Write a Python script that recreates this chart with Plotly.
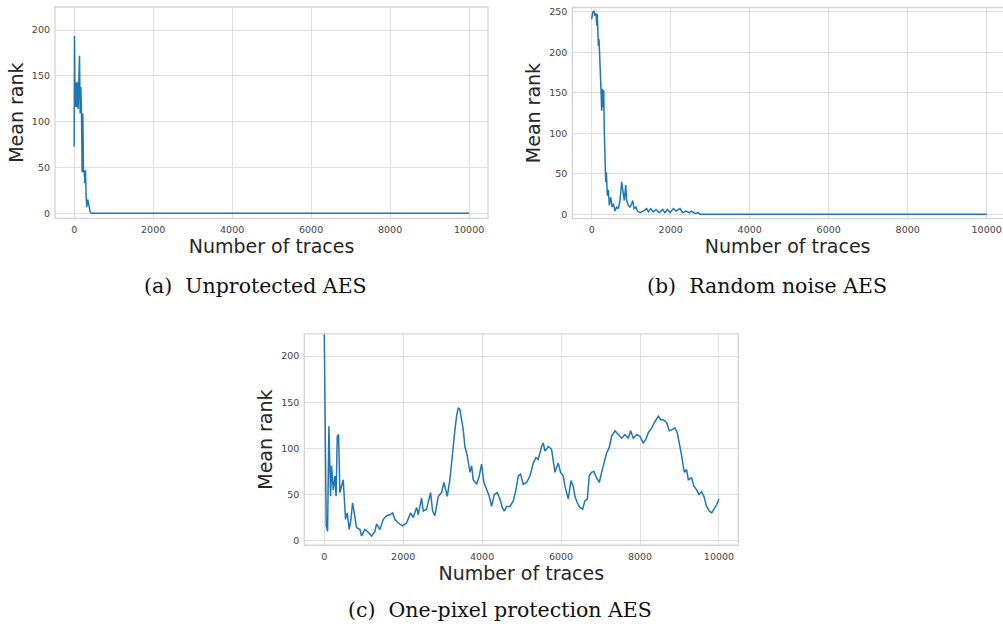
import plotly.graph_objects as go

# ---------------- data ----------------
# (a) Unprotected AES
a_traces = [0, 8, 25, 50, 67, 84, 101, 118, 135, 152, 169, 186, 202, 219, 236, 253,
            270, 287, 304, 320, 346, 371, 405, 430, 1000, 3000, 6000, 10000]
a_rank = [73, 194, 116, 143, 116, 143, 114, 168, 172, 109, 138, 109, 45, 109, 45, 47,
          33, 47, 18, 7, 15, 7, 2, 0, 0, 0, 0, 0]

# (b) Random noise AES
b_traces = [0, 25, 59, 84, 110, 127, 143, 169, 186, 211, 236, 253, 270, 287, 304, 321,
            338, 354, 371, 397, 422, 447, 481, 515, 549, 591, 633, 675, 717, 760, 802,
            827, 861, 886, 928, 970, 1013, 1038, 1072, 1122, 1156, 1224, 1308, 1392,
            1435, 1494, 1561, 1629, 1713, 1797, 1857, 1916, 1983, 2068, 2135, 2236,
            2304, 2388, 2473, 2532, 2616, 2700, 2743, 4000, 7000, 10000]
b_rank = [241, 249, 251, 245, 248, 233, 247, 208, 216, 192, 153, 128, 155, 132, 153, 99,
          50, 40, 52, 23, 30, 11, 21, 9, 13, 4, 9, 7, 17, 40, 25,
          17, 36, 17, 11, 9, 13, 17, 7, 9, 4, 2, 4, 7,
          3, 7, 3, 6, 2, 6, 2, 6, 2, 7, 4, 7,
          2, 4, 2, 4, 1, 2, 0, 0, 0, 0]

# (c) One-pixel protection AES
c_traces = [0, 17, 25, 34, 50, 85, 118, 144, 160, 186, 228, 270, 300, 330, 363, 397,
            439, 481, 510, 540, 583, 633, 676, 718, 760, 819, 904, 946, 1030, 1115,
            1199, 1284, 1326, 1410, 1495, 1580, 1664, 1731, 1790, 1875, 1985, 2086,
            2187, 2255, 2340, 2382, 2466, 2508, 2593, 2694, 2745, 2804, 2889, 2973,
            3032, 3117, 3184, 3252, 3311, 3353, 3395, 3438, 3480, 3522, 3564, 3623,
            3691, 3733, 3775, 3860, 3927, 3986, 4046, 4113, 4181, 4240, 4307, 4384,
            4451, 4510, 4561, 4620, 4705, 4789, 4857, 4916, 4975, 5042, 5127, 5211,
            5296, 5363, 5422, 5507, 5549, 5591, 5676, 5760, 5802, 5845, 5929, 5988,
            6056, 6098, 6182, 6250, 6309, 6351, 6411, 6478, 6546, 6605, 6664, 6714,
            6773, 6833, 6900, 6968, 7027, 7086, 7154, 7221, 7280, 7365, 7449, 7534,
            7618, 7703, 7762, 7829, 7914, 7998, 8083, 8150, 8209, 8294, 8378, 8463,
            8522, 8590, 8674, 8742, 8801, 8885, 8944, 8995, 9054, 9122, 9181, 9223,
            9307, 9366, 9434, 9493, 9560, 9619, 9687, 9754, 9814, 9873, 9941, 10000]
c_rank = [230, 162, 128, 34, 16, 10, 124, 77, 48, 81, 55, 70, 48, 113, 115, 52,
          59, 66, 45, 23, 30, 12, 23, 41, 30, 14, 12, 5, 12, 9,
          5, 10, 18, 12, 23, 27, 28, 30, 23, 19, 16, 19,
          30, 25, 36, 28, 46, 32, 34, 52, 32, 27, 48, 52,
          63, 48, 66, 99, 120, 135, 144, 142, 131, 120, 102, 92,
          74, 81, 66, 61, 70, 83, 63, 55, 48, 37, 50, 52,
          45, 36, 32, 37, 37, 43, 55, 70, 72, 61, 63, 70,
          84, 90, 88, 102, 106, 97, 102, 99, 84, 74, 84, 74,
          70, 59, 45, 65, 59, 48, 41, 36, 34, 43, 45, 70,
          74, 75, 68, 63, 74, 84, 95, 101, 113, 119, 115, 111,
          115, 111, 119, 111, 115, 113, 106, 110, 117, 122, 129, 135,
          131, 131, 128, 119, 120, 122, 117, 106, 92, 74, 77, 66,
          68, 59, 55, 50, 53, 48, 37, 32, 30, 34, 39, 45]

x_ticks = [0, 2000, 4000, 6000, 8000, 10000]
x_tick_labels = ["0", "2000", "4000", "6000", "8000", "10000"]
captions = ["(a)  Unprotected AES", "(b)  Random noise AES", "(c)  One-pixel protection AES"]

# ---------------- styling ----------------
W, H = 1003, 627
LINE = "#1f77b4"
GRID = "#dedede"
FRAME = "#d4d4d4"
TICKFONT = dict(family="DejaVu Sans", size=9.5, color="#444444")
TITLEFONT = dict(family="DejaVu Sans", size=19, color="#262626")


def px_dom(x0, x1, y0, y1):
    return [x0 / W, x1 / W], [1 - y1 / H, 1 - y0 / H]


# panel pixel boxes (left, right, top, bottom)
boxes = [(55, 488, 6, 218), (572.3, 1003, 6.5, 218.3), (304.3, 738.3, 334, 546)]
xranges = [[-485, 10478], [-491, 10413], [-505, 10490]]
yranges = [[-5.4, 225.3], [-5.3, 255.3], [-5.1, 224.1]]
yticks = [[0, 50, 100, 150, 200], [0, 50, 100, 150, 200, 250], [0, 50, 100, 150, 200]]
series = [(a_traces, a_rank), (b_traces, b_rank), (c_traces, c_rank)]

fig = go.Figure()
layout = dict(width=W, height=H, margin=dict(l=0, r=0, t=0, b=0),
              paper_bgcolor="white", plot_bgcolor="white", showlegend=False)

shapes = []
annotations = []
for i, ((x0, x1, y0, y1), xr, yr, yt, (xs, ys)) in enumerate(zip(boxes, xranges, yranges, yticks, series)):
    n = "" if i == 0 else str(i + 1)
    xd, yd = px_dom(x0, x1, y0, y1)
    fig.add_trace(go.Scatter(x=xs, y=ys, mode="lines", line=dict(color=LINE, width=1.5),
                             xaxis="x" + n, yaxis="y" + n, hoverinfo="skip"))
    layout["xaxis" + n] = dict(domain=xd, range=xr, anchor="y" + n, tickvals=x_ticks,
                               ticktext=x_tick_labels,
                               showgrid=True, gridcolor=GRID, gridwidth=1, zeroline=False,
                               showline=False, ticks="", tickfont=TICKFONT,
                               ticklabelstandoff=4,
                               title=dict(text="Number of traces", font=TITLEFONT, standoff=0))
    layout["yaxis" + n] = dict(domain=yd, range=yr, anchor="x" + n, tickvals=yt,
                               ticktext=[str(v) for v in yt],
                               showgrid=True, gridcolor=GRID, gridwidth=1, zeroline=False,
                               showline=False, ticks="", tickfont=TICKFONT,
                               ticklabelstandoff=4,
                               title=dict(text="Mean rank", font=TITLEFONT, standoff=3))
    right = x1 if i != 1 else 1006
    shapes.append(dict(type="rect", xref="paper", yref="paper",
                       x0=x0 / W, x1=right / W, y0=1 - y1 / H, y1=1 - y0 / H,
                       line=dict(color=FRAME, width=1.3), layer="above"))

cap_pos = [(256, 286), (767, 286), (500, 611)]
for (cx, cy), txt in zip(cap_pos, captions):
    annotations.append(dict(text=txt, x=cx / W, y=1 - cy / H, xref="paper", yref="paper",
                            showarrow=False, xanchor="center", yanchor="middle",
                            font=dict(family="DejaVu Serif", size=20.5, color="#111111")))

layout["shapes"] = shapes
layout["annotations"] = annotations
fig.update_layout(**layout)
fig.write_html("out.html")
